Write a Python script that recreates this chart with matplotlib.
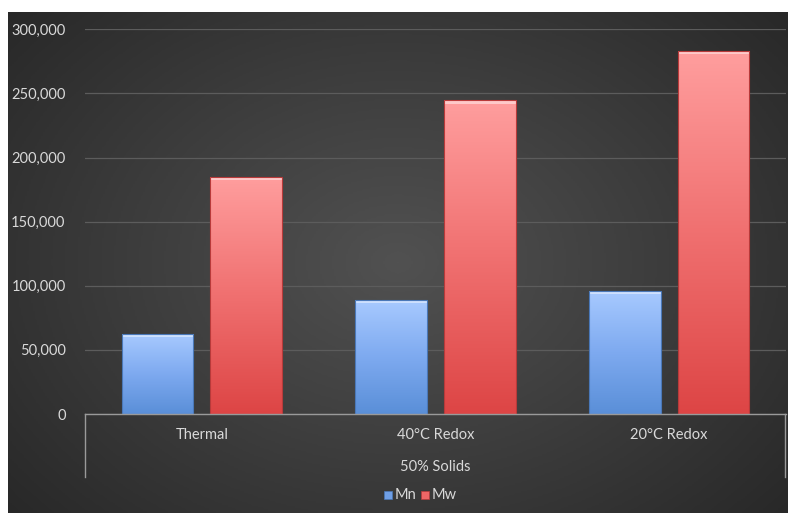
import numpy as np
import matplotlib
matplotlib.use("Agg")
import matplotlib.pyplot as plt
from matplotlib.colors import LinearSegmentedColormap
from matplotlib.patches import Rectangle

categories = ["Thermal", "40°C Redox", "20°C Redox"]
group_label = "50% Solids"
series_names = ["Mn", "Mw"]
mn_values = [62500, 89000, 96000]
mw_values = [185000, 244500, 283000]
yticks = [0, 50000, 100000, 150000, 200000, 250000, 300000]

plt.rcParams['font.family'] = ['Lato', 'DejaVu Sans']
W, H = 788, 513
fig = plt.figure(figsize=(W / 100, H / 100), dpi=100)
fig.patch.set_facecolor("white")

# dark radial-gradient background
bg = fig.add_axes([8 / W, 0, (W - 8) / W, (H - 12) / H])
yy, xx = np.mgrid[-1:1:300j, -1:1:400j]
r = np.sqrt(xx ** 2 * 0.8 + yy ** 2 * 0.6)
bgcmap = LinearSegmentedColormap.from_list("bg", ["#515151", "#3c3c3c", "#262626"])
bg.imshow(r, cmap=bgcmap, aspect="auto", extent=[0, 1, 0, 1], vmin=0, vmax=1.25)
bg.set_axis_off()

left, right, top, bottom = 85, 786, 29.3, 414
ax = fig.add_axes([left / W, (H - bottom) / H, (right - left) / W, (bottom - top) / H])
ax.patch.set_alpha(0)

x = np.arange(len(categories))
bw = 0.306
off = 0.19
blue_cmap = LinearSegmentedColormap.from_list("b", ["#5a8fd8", "#7eaaf0", "#a8caff"])
red_cmap = LinearSegmentedColormap.from_list("r", ["#dd4545", "#f07070", "#ff9e9e"])

def grad_bars(xs, vals, cmap, edge):
    bars = ax.bar(xs, vals, width=bw, color="none", edgecolor=edge, linewidth=0.8, zorder=3)
    grad = np.linspace(0, 1, 256).reshape(-1, 1)
    for b in bars:
        x0, w, h = b.get_x(), b.get_width(), b.get_height()
        im = ax.imshow(grad, cmap=cmap, origin="lower", aspect="auto",
                       extent=[x0, x0 + w, 0, h], zorder=2)
        im.set_clip_path(b)
        # bevel highlight at top
        ax.add_patch(Rectangle((x0, h - 2600), w, 2600, facecolor="white",
                               alpha=0.45, edgecolor="none", zorder=2.5))
    return bars

grad_bars(x - off, mn_values, blue_cmap, "#4a78b8")
grad_bars(x + off, mw_values, red_cmap, "#b83a3a")

ax.set_xlim(-0.5, len(categories) - 0.5)
ax.set_ylim(0, 300000)
ax.set_yticks(yticks)
ax.set_yticklabels([f"{v:,}" for v in yticks], color="#d9d9d9", fontsize=10.5)
ax.tick_params(axis="y", length=0, pad=14)
ax.set_xticks([])
ax.grid(axis="y", color="#5c5c5c", linewidth=0.9, zorder=0)
ax.set_axisbelow(True)
for s in ["top", "right", "left"]:
    ax.spines[s].set_visible(False)
ax.spines["bottom"].set_color("#9a9a9a")
ax.spines["bottom"].set_linewidth(1.0)
ax.spines["bottom"].set_zorder(4)

# multi-level category axis
for xi, c in zip(x, categories):
    fig.text((left + (xi + 0.5) * (right - left) / 3) / W, 1 - 435 / H, c,
             ha="center", va="center", color="#d9d9d9", fontsize=10.5)
fig.text((left + right) / 2 / W, 1 - 467 / H, group_label, ha="center", va="center",
         color="#d9d9d9", fontsize=10.5)
for px in (left, right - 1):
    fig.add_artist(plt.Line2D([px / W, px / W], [1 - bottom / H, 1 - 477 / H],
                              color="#9a9a9a", linewidth=1.0))

# legend
leg_y = 1 - 495 / H
for name, mx, fc, ec in [(series_names[0], 384, "#6f9fe6", "#4a78b8"),
                         (series_names[1], 421, "#ee6666", "#b83a3a")]:
    fig.add_artist(Rectangle((mx / W, leg_y - 4 / H), 8 / W, 8 / H,
                             facecolor=fc, edgecolor=ec, linewidth=0.5,
                             transform=fig.transFigure))
    fig.text((mx + 11) / W, leg_y, name, ha="left", va="center", color="#d9d9d9", fontsize=10.5)

fig.savefig("out.png", dpi=100, facecolor=fig.get_facecolor())
